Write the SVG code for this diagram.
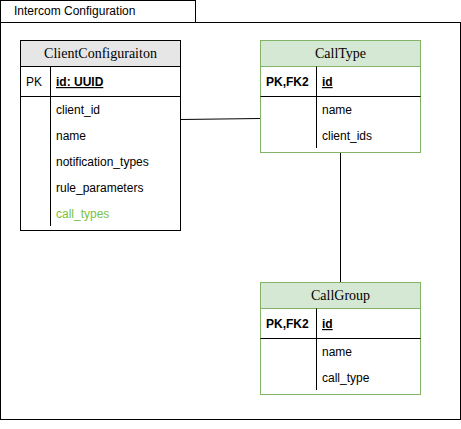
<svg xmlns="http://www.w3.org/2000/svg" width="461" height="429" viewBox="0 0 461 429">
<style>
.frame{fill:#fff;stroke:#000;stroke-width:1}
.hdrg{fill:#e6e6e6;stroke:#000}
.hdrgr{fill:#d5e8d4;stroke:#82b366}
.box{fill:#fff;stroke:#000}
.boxg{fill:#fff;stroke:#82b366}
.ln{stroke:#000;stroke-width:1;fill:none}
.t{font-family:"Liberation Sans",Arial,sans-serif;font-size:12px;fill:#000}
.h{font-family:"Liberation Serif","Times New Roman",serif;font-size:14px;font-weight:normal;fill:#000;text-anchor:middle}
.b{font-weight:bold;text-decoration:underline}
.bold{font-weight:bold}
</style>
<rect width="461" height="429" fill="#fff"/>
<g id="container">
<rect class="frame" x="0.5" y="22.5" width="460" height="397"/>
<rect class="frame" x="0.5" y="0.5" width="195" height="22"/>
<text class="t" x="14" y="15">Intercom Configuration</text>
</g>
<g id="connectors">
<line class="ln" x1="180.5" y1="119.5" x2="260.5" y2="118.5"/>
<line class="ln" x1="340.5" y1="152.5" x2="340.5" y2="282.5"/>
</g>
<g id="ClientConfiguraiton">
<rect class="box" x="20.5" y="40.5" width="160" height="190"/>
<rect class="hdrg" x="20.5" y="40.5" width="160" height="26"/>
<text class="h" x="100.5" y="58">ClientConfiguraiton</text>
<line class="ln" x1="20.5" y1="96.5" x2="180.5" y2="96.5"/>
<line class="ln" x1="50.5" y1="66.5" x2="50.5" y2="226"/>
<text class="t" x="26" y="86">PK</text>
<text class="t b" x="56" y="86">id: UUID</text>
<text class="t" x="56" y="114">client_id</text>
<text class="t" x="56" y="140">name</text>
<text class="t" x="56" y="166">notification_types</text>
<text class="t" x="56" y="192">rule_parameters</text>
<text class="t" x="56" y="218" style="fill:#7ac143">call_types</text>
</g>
<g id="CallType">
<rect class="boxg" x="260.5" y="40.5" width="160" height="112"/>
<rect class="hdrgr" x="260.5" y="40.5" width="160" height="26"/>
<text class="h" x="340.5" y="58">CallType</text>
<line class="ln" x1="260.5" y1="96.5" x2="420.5" y2="96.5"/>
<line class="ln" x1="316.5" y1="66.5" x2="316.5" y2="148"/>
<text class="t bold" x="266" y="86">PK,FK2</text>
<text class="t b" x="322" y="86">id</text>
<text class="t" x="322" y="114">name</text>
<text class="t" x="322" y="140">client_ids</text>
</g>
<g id="CallGroup">
<rect class="boxg" x="260.5" y="282.5" width="160" height="112"/>
<rect class="hdrgr" x="260.5" y="282.5" width="160" height="26"/>
<text class="h" x="340.5" y="300">CallGroup</text>
<line class="ln" x1="260.5" y1="338.5" x2="420.5" y2="338.5"/>
<line class="ln" x1="316.5" y1="308.5" x2="316.5" y2="390"/>
<text class="t bold" x="266" y="328">PK,FK2</text>
<text class="t b" x="322" y="328">id</text>
<text class="t" x="322" y="356">name</text>
<text class="t" x="322" y="382">call_type</text>
</g>
</svg>
